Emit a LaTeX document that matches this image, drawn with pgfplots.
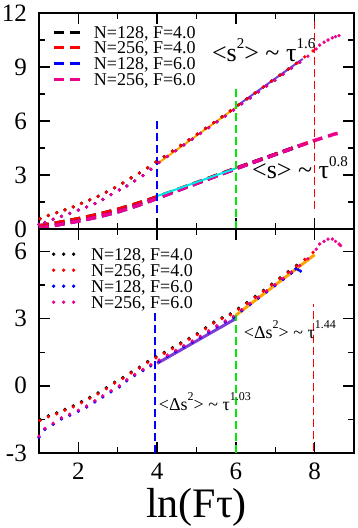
\documentclass[border=0pt]{standalone}
\usepackage{fontspec}
\setmainfont{Liberation Serif}
\usepackage{pgfplots}
\pgfplotsset{compat=1.18}
\definecolor{xorange}{RGB}{255,165,0}
\definecolor{xviolet}{RGB}{125,60,215}
\definecolor{xgreen}{RGB}{0,235,0}
\definecolor{xcyan}{RGB}{0,230,230}

\pgfplotsset{
  panel/.style={
    scale only axis, width=315pt, xmin=1, xmax=9,
    axis line style={line width=1.4pt},
    every tick/.style={line width=1.4pt, black},
    tick align=inside, major tick length=11pt, minor tick length=6pt,
    xtick={2,4,6,8}, minor xtick={1,3,5,7,9},
    xtick pos=both, ytick pos=both,
    xticklabel pos=left, yticklabel pos=left,
    tick label style={font=\fontsize{25}{25}\selectfont, inner sep=0pt},
    yticklabel style={xshift=-12pt},
    xticklabel style={yshift=-10pt},
  },
  sdot/.style={only marks, mark=*, mark size=1.5pt, color=#1,
    legend image code/.code={\path (0pt,0pt) (26pt,0pt);
      \fill[#1] (1.5pt,0pt) circle (1.5pt);
      \fill[#1] (11.5pt,0pt) circle (1.5pt);
      \fill[#1] (21.5pt,0pt) circle (1.5pt);}},
  sdash/.style={no markers, color=#1, line width=3.5pt, dash pattern=on 10pt off 6pt,
    legend image code/.code={\draw[#1, line width=3pt, dash pattern=on 10pt off 6pt] (0pt,0pt) -- (26pt,0pt);}},
  vline/.style={color=#1, line width=1.6pt, dash pattern=on 8pt off 4pt, forget plot},
  fitline/.style={color=#1, line width=2pt, forget plot},
}

\begin{document}
\begin{tikzpicture}
% ---------------- top panel ----------------
\begin{axis}[panel, at={(0pt,224pt)}, anchor=south west, height=216pt,
  ymin=0, ymax=12, ytick={0,3,6,9,12}, minor ytick={1.5,4.5,7.5,10.5},
  xticklabels={}, yticklabels={0,3,6,9,12},
  legend style={at={(axis description cs:0.0413,0.9481)}, anchor=north west,
    draw=none, fill=none, inner sep=0pt, column sep=12.7pt, row sep=0pt,
    font=\fontsize{18}{18}\selectfont,
    nodes={inner sep=0pt, text height=13.8pt, text depth=1.8pt}},
  legend cell align=left,
]
% <s^2> (dotted)
\addplot[sdot=black, forget plot] coordinates {(1.03,0.57)(1.24,0.75)(1.45,0.91)(1.66,1.06)(1.87,1.23)(2.08,1.42)(2.29,1.62)(2.50,1.82)(2.71,2.05)(2.92,2.29)(3.13,2.55)(3.34,2.84)(3.55,3.11)(3.76,3.40)(3.97,3.72)(4.18,4.02)(4.39,4.33)(4.60,4.64)(4.81,4.95)(5.02,5.27)(5.23,5.59)(5.44,5.91)(5.65,6.23)(5.86,6.56)(6.07,6.90)(6.28,7.23)(6.49,7.56)(6.70,7.89)(6.91,8.22)(7.12,8.55)(7.33,8.88)(7.54,9.20)};
\addplot[sdot=blue, forget plot] coordinates {(1.00,0.25)(1.15,0.36)(1.36,0.54)(1.57,0.70)(1.78,0.87)(2.00,1.05)(2.21,1.22)(2.42,1.41)(2.62,1.64)(2.83,1.91)(3.04,2.17)(3.23,2.39)(3.43,2.67)(3.64,2.97)(3.84,3.32)(4.05,3.70)(4.26,4.03)(4.47,4.35)(4.68,4.67)(4.89,4.99)(5.10,5.31)(5.31,5.63)(5.52,5.95)(5.73,6.27)(5.94,6.60)(6.15,6.95)(6.36,7.28)(6.57,7.61)(6.78,7.94)(6.99,8.27)(7.20,8.60)(7.41,8.93)(7.62,9.26)};
\addplot[sdot=magenta, forget plot] coordinates {(1.00,0.25)(1.15,0.36)(1.36,0.54)(1.57,0.70)(1.78,0.87)(2.00,1.05)(2.21,1.22)(2.42,1.41)(2.62,1.64)(2.83,1.91)(3.04,2.17)(3.23,2.39)(3.43,2.67)(3.64,2.97)(3.84,3.32)(4.05,3.70)(4.26,4.03)(4.47,4.35)(4.68,4.67)(4.89,4.99)(5.10,5.31)(5.31,5.63)(5.52,5.95)(5.73,6.27)(5.94,6.60)(6.15,6.95)(6.36,7.28)(6.57,7.61)(6.78,7.94)(6.99,8.27)(7.20,8.60)(7.41,8.93)(7.62,9.26)(7.83,9.60)(8.04,10.00)(8.13,10.22)(8.24,10.38)(8.34,10.50)(8.45,10.62)(8.53,10.69)(8.62,10.74)};
\addplot[sdot=red, forget plot] coordinates {(1.03,0.57)(1.24,0.75)(1.45,0.91)(1.66,1.06)(1.87,1.23)(2.08,1.42)(2.29,1.62)(2.50,1.82)(2.71,2.05)(2.92,2.29)(3.13,2.55)(3.34,2.84)(3.55,3.11)(3.76,3.40)(3.97,3.72)(4.18,4.02)(4.39,4.33)(4.60,4.64)(4.81,4.95)(5.02,5.27)(5.23,5.59)(5.44,5.91)(5.65,6.23)(5.86,6.56)(6.07,6.90)(6.28,7.23)(6.49,7.56)(6.70,7.89)(6.91,8.22)(7.12,8.55)(7.33,8.88)(7.54,9.20)(7.75,9.56)(7.96,9.89)};
% <s> (dashed)
\addplot[sdash=black] coordinates {(1.0,0.17)(1.5,0.36)(2.0,0.57)(2.5,0.81)(3.0,1.09)(3.5,1.42)(4.0,1.78)(4.5,2.17)(5.0,2.57)(5.5,2.97)(6.0,3.37)(6.5,3.76)(7.0,4.15)(7.5,4.54)(7.6,4.62)};
\addlegendentry{N=128, F=4.0}
\addplot[sdash=red] coordinates {(1.0,0.17)(1.5,0.36)(2.0,0.57)(2.5,0.81)(3.0,1.09)(3.5,1.42)(4.0,1.78)(4.5,2.17)(5.0,2.57)(5.5,2.97)(6.0,3.37)(6.5,3.76)(7.0,4.15)(7.5,4.54)(8.0,4.92)};
\addlegendentry{N=256, F=4.0}
\addplot[sdash=blue] coordinates {(1.0,0.05)(1.5,0.24)(2.0,0.44)(2.5,0.67)(3.0,0.95)(3.5,1.30)(4.0,1.70)(4.5,2.12)(5.0,2.53)(5.5,2.94)(6.0,3.35)(6.5,3.75)(7.0,4.14)(7.5,4.53)(7.6,4.61)};
\addlegendentry{N=128, F=6.0}
\addplot[sdash=magenta] coordinates {(1.0,0.05)(1.5,0.24)(2.0,0.44)(2.5,0.67)(3.0,0.95)(3.5,1.30)(4.0,1.70)(4.5,2.12)(5.0,2.53)(5.5,2.94)(6.0,3.35)(6.5,3.75)(7.0,4.14)(7.5,4.53)(8.0,4.92)(8.3,5.13)(8.5,5.27)(8.62,5.33)};
\addlegendentry{N=256, F=6.0}
% fits
\addplot[fitline=xorange] coordinates {(4.0,3.62)(6.0,6.75)};
\addplot[fitline=xviolet] coordinates {(6.0,6.80)(7.7,9.45)};
\addplot[fitline=xcyan] coordinates {(4.0,1.83)(6.0,3.37)};
% markers of regimes
\addplot[vline=blue] coordinates {(4.0,0.9)(4.0,6.1)};
\addplot[vline=xgreen] coordinates {(6.0,0.0)(6.0,7.9)};
\addplot[vline=red] coordinates {(8.0,1.1)(8.0,11.6)};
\node[anchor=base west, inner sep=0pt, font=\fontsize{26}{26}\selectfont] at (axis cs:5.39,9.30)
  {<s\raisebox{13pt}{\fontsize{15}{15}\selectfont 2}> \textasciitilde{} τ\raisebox{13pt}{\fontsize{15}{15}\selectfont 1.6}};
\node[anchor=base west, inner sep=0pt, font=\fontsize{26}{26}\selectfont] at (axis cs:6.41,2.82)
  {<s> \textasciitilde{} τ\raisebox{11.6pt}{\fontsize{15}{15}\selectfont 0.8}};
\end{axis}

% ---------------- bottom panel ----------------
\begin{axis}[panel, at={(0pt,0pt)}, anchor=south west, height=224pt,
  ymin=-3, ymax=7, ytick={-3,0,3,6}, minor ytick={-1.5,1.5,4.5},
  xticklabels={2,4,6,8}, yticklabels={-3,0,3,6},
  xlabel={ln(Fτ)},
  xlabel style={at={(axis description cs:0.5,0)}, anchor=north, yshift=-35pt, inner sep=0pt,
    font=\fontsize{42}{42}\selectfont},
  legend style={at={(axis description cs:0.0406,0.9241)}, anchor=north west,
    draw=none, fill=none, inner sep=0pt, column sep=12.7pt, row sep=0pt,
    font=\fontsize{18}{18}\selectfont,
    nodes={inner sep=0pt, text height=14pt, text depth=2pt}},
  legend cell align=left,
]
\addplot[sdot=black] coordinates {(1.03,-1.51)(1.24,-1.34)(1.45,-1.21)(1.66,-1.05)(1.87,-0.90)(2.08,-0.71)(2.29,-0.52)(2.50,-0.32)(2.71,-0.09)(2.92,0.16)(3.13,0.37)(3.34,0.61)(3.55,0.83)(3.76,1.08)(3.97,1.29)(4.18,1.49)(4.39,1.70)(4.60,1.91)(4.81,2.12)(5.02,2.33)(5.23,2.59)(5.44,2.84)(5.65,3.04)(5.86,3.21)(6.07,3.46)(6.28,3.72)(6.49,3.99)(6.70,4.26)(6.91,4.54)(7.12,4.82)(7.33,5.10)(7.54,5.38)};
\addlegendentry{N=128, F=4.0}
\addplot[sdot=red] coordinates {(1.03,-1.55)(1.24,-1.38)(1.45,-1.25)(1.66,-1.09)(1.87,-0.94)(2.08,-0.75)(2.29,-0.56)(2.50,-0.36)(2.71,-0.13)(2.92,0.12)(3.13,0.33)(3.34,0.57)(3.55,0.79)(3.76,1.04)(3.97,1.25)(4.18,1.45)(4.39,1.66)(4.60,1.87)(4.81,2.08)(5.02,2.29)(5.23,2.55)(5.44,2.80)(5.65,3.00)(5.86,3.17)(6.07,3.42)(6.28,3.68)(6.49,3.95)(6.70,4.22)(6.91,4.50)(7.12,4.78)(7.33,5.06)(7.54,5.34)(7.75,5.64)(7.96,5.96)};
\addlegendentry{N=256, F=4.0}
\addplot[sdot=blue] coordinates {(1.00,-2.30)(1.15,-1.95)(1.36,-1.72)(1.57,-1.48)(1.78,-1.32)(2.00,-1.14)(2.21,-0.95)(2.42,-0.72)(2.62,-0.50)(2.83,-0.27)(3.04,-0.05)(3.23,0.22)(3.43,0.46)(3.64,0.68)(3.84,0.89)(4.05,1.10)(4.26,1.32)(4.47,1.53)(4.68,1.74)(4.89,1.95)(5.10,2.16)(5.31,2.40)(5.52,2.63)(5.73,2.85)(5.94,3.05)(6.15,3.35)(6.36,3.63)(6.57,3.91)(6.78,4.19)(6.99,4.47)(7.20,4.75)(7.41,5.03)(7.52,5.22)(7.58,5.18)(7.64,5.12)};
\addlegendentry{N=128, F=6.0}
\addplot[sdot=magenta] coordinates {(1.00,-2.25)(1.15,-1.90)(1.36,-1.67)(1.57,-1.43)(1.78,-1.27)(2.00,-1.09)(2.21,-0.90)(2.42,-0.67)(2.62,-0.45)(2.83,-0.22)(3.04,0.00)(3.23,0.27)(3.43,0.51)(3.64,0.73)(3.84,0.94)(4.05,1.15)(4.26,1.37)(4.47,1.58)(4.68,1.79)(4.89,2.00)(5.10,2.21)(5.31,2.45)(5.52,2.68)(5.73,2.90)(5.94,3.10)(6.15,3.40)(6.36,3.68)(6.57,3.96)(6.78,4.24)(6.99,4.52)(7.20,4.80)(7.41,5.08)(7.62,5.37)(7.83,5.67)(8.04,6.10)(8.13,6.33)(8.24,6.45)(8.34,6.55)(8.45,6.55)(8.53,6.45)(8.62,6.33)(8.66,6.26)};
\addlegendentry{N=256, F=6.0}
\addplot[fitline=xviolet, line width=3pt] coordinates {(4.0,1.0)(6.0,3.0)};
\addplot[fitline=xorange, line width=3pt] coordinates {(6.0,3.15)(8.0,5.85)};
\addplot[vline=blue] coordinates {(3.94,-3.0)(3.94,3.33)};
\addplot[vline=xgreen] coordinates {(6.0,-3.0)(6.0,3.15)};
\addplot[vline=red] coordinates {(7.97,-2.9)(7.97,3.67)};
\node[anchor=base west, inner sep=0pt, font=\fontsize{18}{18}\selectfont] at (axis cs:4.04,-1.1)
  {<Δs\raisebox{10pt}{\fontsize{12}{12}\selectfont 2}> \textasciitilde{} τ\raisebox{10pt}{\fontsize{12}{12}\selectfont 1.03}};
\node[anchor=base west, inner sep=0pt, font=\fontsize{18}{18}\selectfont] at (axis cs:6.2,2.1)
  {<Δs\raisebox{10pt}{\fontsize{12}{12}\selectfont 2}> \textasciitilde{} τ\raisebox{10pt}{\fontsize{12}{12}\selectfont 1.44}};
\end{axis}
\pgfresetboundingbox
\path[use as bounding box] (-39pt,-75pt) rectangle (318pt,453pt);
\end{tikzpicture}
\end{document}
